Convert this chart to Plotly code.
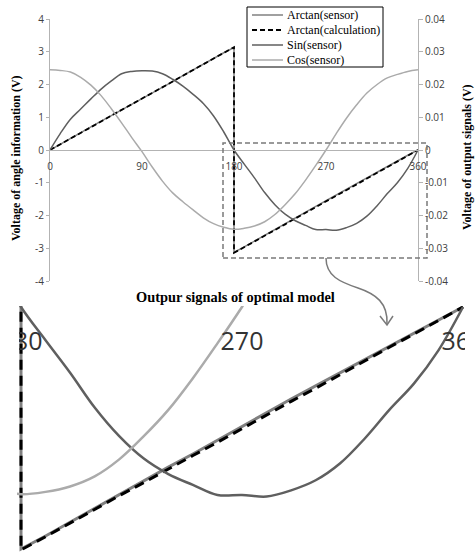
import plotly.graph_objects as go

# ---------------- data ----------------
angles = [0, 10, 20, 30, 40, 50, 60, 70, 80, 90, 100, 110, 120, 130, 140, 150, 160, 170, 180,
          190, 200, 210, 220, 230, 240, 250, 260, 270, 280, 290, 300, 310, 320, 330, 340, 350, 360]

# arctan series (rad) - 180 deg appears twice (jump from +pi to -pi)
arctan_angles = [0, 10, 20, 30, 40, 50, 60, 70, 80, 90, 100, 110, 120, 130, 140, 150, 160, 170, 180,
                 180, 190, 200, 210, 220, 230, 240, 250, 260, 270, 280, 290, 300, 310, 320, 330, 340, 350, 360]
arctan_sensor = [0.00, 0.18, 0.36, 0.53, 0.71, 0.88, 1.05, 1.22, 1.39, 1.56, 1.74, 1.91, 2.09, 2.27,
                 2.45, 2.63, 2.80, 2.97, 3.13,
                 -3.13, -2.96, -2.78, -2.60, -2.42, -2.25, -2.07, -1.90, -1.72, -1.55, -1.37, -1.19,
                 -1.02, -0.85, -0.68, -0.50, -0.33, -0.16, 0.00]
arctan_calc = [0.00, 0.17, 0.35, 0.52, 0.70, 0.87, 1.05, 1.22, 1.40, 1.57, 1.75, 1.92, 2.09, 2.27,
               2.44, 2.62, 2.79, 2.97, 3.14,
               -3.14, -2.97, -2.79, -2.62, -2.44, -2.27, -2.09, -1.92, -1.75, -1.57, -1.40, -1.22,
               -1.05, -0.87, -0.70, -0.52, -0.35, -0.17, 0.00]

# output signals (V)
sin_sensor = [0.0000, 0.0050, 0.0094, 0.0125, 0.0156, 0.0186, 0.0211, 0.0233, 0.0240, 0.0242,
              0.0241, 0.0233, 0.0216, 0.0195, 0.0170, 0.0142, 0.0104, 0.0055, 0.0000,
              -0.0043, -0.0085, -0.0130, -0.0167, -0.0196, -0.0216, -0.0230, -0.0243, -0.0243,
              -0.0245, -0.0237, -0.0224, -0.0202, -0.0170, -0.0133, -0.0099, -0.0056, 0.0000]
cos_sensor = [0.0245, 0.0243, 0.0238, 0.0222, 0.0198, 0.0166, 0.0126, 0.0083, 0.0038, -0.0005,
              -0.0052, -0.0095, -0.0131, -0.0158, -0.0183, -0.0207, -0.0225, -0.0236, -0.0242,
              -0.0239, -0.0232, -0.0219, -0.0197, -0.0167, -0.0133, -0.0092, -0.0047, 0.0000,
              0.0050, 0.0097, 0.0138, 0.0174, 0.0200, 0.0220, 0.0231, 0.0240, 0.0245]

x_ticks = [0, 90, 180, 270, 360]
left_ticks = [4, 3, 2, 1, 0, -1, -2, -3, -4]
right_ticks = [0.04, 0.03, 0.02, 0.01, 0, -0.01, -0.02, -0.03, -0.04]
right_tick_text = ["0.04", "0.03", "0.02", "0.01", "0", "-0.01", "-0.02", "-0.03", "-0.04"]
zoom_ticks = [180, 270, 360]
legend_names = ["Arctan(sensor)", "Arctan(calculation)", "Sin(sensor)", "Cos(sensor)"]

W, H = 475, 552


def px(x):
    return x / W


def py(y):
    return 1 - y / H


C_ATAN = "#808080"
C_CALC = "#000000"
C_SIN = "#5f5f5f"
C_COS = "#ababab"

fig = go.Figure()

# ---------------- main chart ----------------
fig.add_trace(go.Scatter(x=arctan_angles, y=arctan_sensor, mode="lines", name=legend_names[0],
                         line=dict(color=C_ATAN, width=1.5), xaxis="x", yaxis="y", showlegend=False))
fig.add_trace(go.Scatter(x=arctan_angles, y=arctan_calc, mode="lines", name=legend_names[1],
                         line=dict(color=C_CALC, width=1.8, dash="5px,3px"), xaxis="x", yaxis="y",
                         showlegend=False))
fig.add_trace(go.Scatter(x=angles, y=sin_sensor, mode="lines", name=legend_names[2], line_shape="spline",
                         line=dict(color=C_SIN, width=1.5), xaxis="x", yaxis="y2", showlegend=False))
fig.add_trace(go.Scatter(x=angles, y=cos_sensor, mode="lines", name=legend_names[3], line_shape="spline",
                         line=dict(color=C_COS, width=1.5), xaxis="x", yaxis="y2", showlegend=False))

# ---------------- magnified chart ----------------
fig.add_trace(go.Scatter(x=arctan_angles, y=arctan_sensor, mode="lines",
                         line=dict(color=C_ATAN, width=3), xaxis="x2", yaxis="y3", showlegend=False))
fig.add_trace(go.Scatter(x=arctan_angles, y=arctan_calc, mode="lines",
                         line=dict(color=C_CALC, width=3, dash="10px,6px"), xaxis="x2", yaxis="y3",
                         showlegend=False))
fig.add_trace(go.Scatter(x=angles, y=sin_sensor, mode="lines", line_shape="spline",
                         line=dict(color=C_SIN, width=2.5), xaxis="x2", yaxis="y4", showlegend=False))
fig.add_trace(go.Scatter(x=angles, y=cos_sensor, mode="lines", line_shape="spline",
                         line=dict(color=C_COS, width=2.5), xaxis="x2", yaxis="y4", showlegend=False))

tick_font = dict(family="Open Sans", size=10, color="#404040")
axis_col = "#b3b3b3"

# zoom panel geometry
zx0, zx1 = 17, 465
deg_px = (463 - 21) / 180.0
z_xr = [180 - (21 - zx0) / deg_px, 360 + (zx1 - 463) / deg_px]
ztop, zbot, zzero = 306, 552, 307
unit_px = (550 - zzero) / 3.1416
z_yr = [-(zbot - zzero) / unit_px, (zzero - ztop) / unit_px]

fig.update_layout(
    width=W, height=H,
    margin=dict(l=0, r=0, t=0, b=0, autoexpand=False),
    paper_bgcolor="white", plot_bgcolor="rgba(0,0,0,0)",
    xaxis=dict(domain=[px(50), px(418)], range=[0, 360], tickvals=x_ticks,
               ticktext=[str(v) for v in x_ticks], anchor="free", position=py(150),
               showline=True, linecolor=axis_col, linewidth=1, ticks="", showgrid=False,
               zeroline=False, tickfont=tick_font, ticklabelstandoff=7, automargin=False,
               ticklabeloverflow="allow"),
    yaxis=dict(domain=[py(281), py(19)], range=[-4, 4], tickvals=left_ticks,
               ticktext=[str(v) for v in left_ticks], anchor="x", showline=True,
               linecolor=axis_col, linewidth=1, ticks="outside", ticklen=3, tickcolor=axis_col,
               showgrid=False, zeroline=False, tickfont=tick_font, automargin=False),
    yaxis2=dict(overlaying="y", side="right", anchor="x", range=[-0.04, 0.04], tickvals=right_ticks,
                ticktext=right_tick_text, showline=True, linecolor=axis_col, linewidth=1,
                ticks="outside", ticklen=4, tickcolor=axis_col, showgrid=False, zeroline=False,
                tickfont=tick_font, automargin=False),
    xaxis2=dict(domain=[px(zx0), px(zx1)], range=z_xr, tickvals=zoom_ticks,
                ticktext=[str(v) for v in zoom_ticks], anchor="free", position=py(zzero),
                showline=False, ticks="", showgrid=False, zeroline=False,
                tickfont=dict(family="Open Sans", size=25, color="#333333"), ticklabelstandoff=17,
                automargin=False, ticklabeloverflow="allow"),
    yaxis3=dict(domain=[0, py(ztop)], range=z_yr, anchor="x2", visible=False, automargin=False),
    yaxis4=dict(domain=[0, py(ztop)], range=[z_yr[0] / 100, z_yr[1] / 100], overlaying="y3",
                anchor="x2", visible=False, automargin=False),
)

title_font = dict(family="Liberation Serif", size=12, color="black")
fig.add_annotation(text="<b>Voltage of angle information (V)</b>", x=px(16), y=py(158),
                   xref="paper", yref="paper", textangle=-90, showarrow=False, font=title_font,
                   xanchor="center", yanchor="middle")
fig.add_annotation(text="<b>Voltage of output signals (V)</b>", x=px(467), y=py(157),
                   xref="paper", yref="paper", textangle=-90, showarrow=False, font=title_font,
                   xanchor="center", yanchor="middle")
fig.add_annotation(text="<b>Outpur signals of optimal model</b>", x=px(235), y=py(297),
                   xref="paper", yref="paper", showarrow=False,
                   font=dict(family="Liberation Serif", size=14.4, color="black"),
                   xanchor="center", yanchor="middle")

# legend (drawn box)
fig.add_shape(type="rect", x0=px(247), x1=px(383), y0=py(67), y1=py(7), xref="paper", yref="paper",
              line=dict(color="black", width=1), fillcolor="white", layer="above")
leg_styles = [dict(color=C_ATAN, width=1.5), dict(color=C_CALC, width=1.8, dash="5px,3px"),
              dict(color=C_SIN, width=1.5), dict(color=C_COS, width=1.5)]
for i, (nm, st) in enumerate(zip(legend_names, leg_styles)):
    yy = 15 + 15 * i
    fig.add_shape(type="line", x0=px(252), x1=px(283), y0=py(yy), y1=py(yy), xref="paper",
                  yref="paper", line=st, layer="above")
    fig.add_annotation(text=nm, x=px(285), y=py(yy + 0.5), xref="paper", yref="paper",
                       showarrow=False, xanchor="left", yanchor="middle",
                       font=dict(family="Liberation Serif", size=12, color="black"))

# dashed zoom rectangle
fig.add_shape(type="rect", x0=px(223), x1=px(427), y0=py(258), y1=py(143), xref="paper", yref="paper",
              line=dict(color="#7a7a7a", width=1.5, dash="5px,3px"), layer="above")


def P(x, y):
    return f"{px(x):.5f},{py(y):.5f}"


# curved arrow
fig.add_shape(type="path", xref="paper", yref="paper", layer="above",
              path=f"M {P(326,258)} C {P(326,276)} {P(340,282)} {P(358,288)} "
                   f"C {P(376,294)} {P(388,303)} {P(387,324)}",
              line=dict(color="#7a7a7a", width=1.5))
fig.add_shape(type="path", xref="paper", yref="paper", layer="above",
              path=f"M {P(380,316)} L {P(387,325)} L {P(393,316)}",
              line=dict(color="#7a7a7a", width=1.5))

# crop edges of the magnified panel
fig.add_shape(type="rect", x0=0, x1=px(19), y0=py(372), y1=py(309), xref="paper", yref="paper",
              line=dict(width=0), fillcolor="white", layer="above")
fig.add_shape(type="rect", x0=px(zx1), x1=1, y0=py(372), y1=py(309), xref="paper", yref="paper",
              line=dict(width=0), fillcolor="white", layer="above")

fig.write_html("out.html", config={"displayModeBar": False},
               post_script="document.body.style.margin='0';document.body.style.overflow='hidden';")
